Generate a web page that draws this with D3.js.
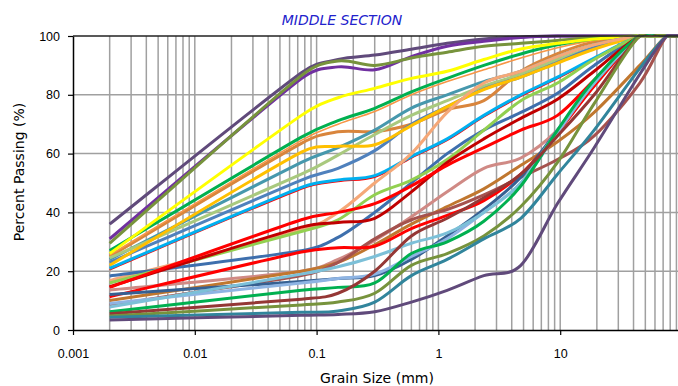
<!DOCTYPE html>
<meta charset="utf-8">
<script src="https://d3js.org/d3.v7.min.js"></script>
<title>Middle Section</title>
<style>
body { margin: 0; background: #fff; }
svg { display: block; }
.tick text { font-family: "Liberation Sans", Arial, sans-serif; font-size: 12.5px; fill: #000; }
.axis-title { font-family: "DejaVu Sans", Verdana, sans-serif; font-size: 14px; fill: #000; }
.title { font-family: "DejaVu Sans", Verdana, sans-serif; font-size: 14px; font-style: italic; fill: #2222cc; }
</style>
<body>
<div id="vis"></div>
<script>

// sieve sizes (mm) at which each sample was measured
var sieveSizes = [0.002, 0.075, 0.15, 0.3, 0.6, 1.18, 2.36, 4.75, 9.5, 19, 45, 75, 100];

var yTicks = [0, 20, 40, 60, 80, 100];
var xTicks = [0.001, 0.01, 0.1, 1, 10];
var xTickLabels = ["0.001", "0.01", "0.1", "1", "10"];

// percent passing, one row per sample
var passing = [
  [36, 87.5, 92, 93.5, 95.5, 97.5, 99, 99.7, 100, 100, 100, 100, 100],
  [31, 85.5, 89.5, 88.5, 93, 96.5, 98.2, 99.5, 100, 100, 100, 100, 100],
  [29.5, 86.5, 91.5, 90, 92.5, 94.5, 96.5, 97.5, 98.5, 99.5, 100, 100, 100],
  [25, 63.5, 67.4, 67.5, 70, 75, 78, 88, 94, 98, 100, 100, 100],
  [25.5, 64.5, 70, 74.3, 80, 84.5, 88.5, 92.5, 96, 98.5, 100, 100, 100],
  [27, 65.6, 71.2, 75.4, 81, 85.6, 90, 93.9, 97, 99, 100, 100, 100],
  [26, 73, 79, 82.2, 85.6, 88, 92, 95.6, 97.5, 99, 100, 100, 100],
  [24, 57, 62, 68, 75.5, 80, 84.5, 88, 93, 97, 100, 100, 100],
  [24.5, 53, 59.5, 66.5, 73, 78, 83, 87, 92, 96, 100, 100, 100],
  [23, 51, 55, 61, 70, 76, 82, 86, 91, 96, 100, 100, 100],
  [22, 60.5, 62.5, 63, 69.5, 76, 81.8, 86, 90.8, 95.5, 100, 100, 100],
  [20.5, 48, 50.5, 52, 58.5, 64.5, 72.5, 79.5, 85.5, 92, 100, 100, 100],
  [21, 48.5, 51, 52.5, 59, 65, 73, 80, 86, 92.5, 100, 100, 100],
  [16.8, 34, 40, 50, 60, 74, 84, 88, 93, 97, 100, 100, 100],
  [18.4, 27, 31.5, 40, 50, 60, 68, 74, 80.5, 90, 100, 100, 100],
  [16, 33.5, 37.5, 46, 51, 58, 68, 78, 84, 92, 100, 100, 100],
  [14.7, 35, 36.6, 38, 47, 57, 65, 72, 78.5, 88, 100, 100, 100],
  [14.5, 37.5, 40, 43, 49, 56, 62, 68, 73, 85, 100, 100, 100],
  [13.6, 20, 24, 30.5, 38.5, 47, 55, 58.5, 68, 83, 100, 100, 100],
  [10, 20, 23, 29, 36, 42, 48, 56, 64, 74, 90, 100, 100],
  [8.5, 18.5, 23, 31, 37.5, 41, 46, 52, 58, 66, 84, 100, 100],
  [11.3, 26.5, 28, 28.5, 34.5, 39, 44, 53, 67, 83, 100, 100, 100],
  [12.1, 16.5, 17.5, 18.5, 24, 32, 41, 52, 68, 84, 100, 100, 100],
  [9, 16, 17.5, 19, 25, 31, 40, 50, 67, 84, 100, 100, 100],
  [7.8, 19, 21.5, 25, 29.5, 33, 40, 50, 68, 84, 100, 100, 100],
  [6.2, 13.5, 14.5, 16, 26, 30, 37, 49, 68, 85, 100, 100, 100],
  [5.5, 10.5, 12.5, 20, 32, 38, 45, 53, 66, 80, 100, 100, 100],
  [4.8, 8.5, 9.5, 12.5, 22, 26, 32, 42, 57, 77, 100, 100, 100],
  [4.3, 6, 6.5, 9.5, 18.5, 24, 31, 38, 53, 68, 89, 100, 100],
  [3.4, 5, 5.3, 6.2, 9.5, 13.5, 18.5, 22, 43, 62, 87, 100, 100]
];

var lineColors = [
  "#604a7b", "#7030a0", "#77933c", "#d9853c", "#f79646", "#00b050", "#ffff00",
  "#4698ad", "#a9c97e", "#4f81bd", "#ffc000", "#ff0000", "#00b0f0", "#f5a878",
  "#3e6fad", "#92d050", "#c00000", "#ff0000", "#d08a85", "#c0772f", "#a5524e",
  "#ff0000", "#366092", "#8eb4e3", "#7cc0d8", "#00b050", "#953735", "#77933c",
  "#31859c", "#604a7b"
];
var thinLines = [4, 11];

var width = 678, height = 386;
var plotLeft = 73, plotRight = 682, plotTop = 36, plotBottom = 330;

var x = d3.scaleLog().domain([0.001, 100]).range([plotLeft, plotRight]);
var y = d3.scaleLinear().domain([0, 100]).range([plotBottom, plotTop]);

var svg = d3.select("#vis").append("svg")
  .attr("width", width)
  .attr("height", height);

svg.append("clipPath").attr("id", "plot-clip")
  .append("rect")
  .attr("x", plotLeft).attr("y", plotTop - 2)
  .attr("width", plotRight - plotLeft).attr("height", plotBottom - plotTop + 2);

// grid
var gridX = [];
for (var p = -3; p <= 1; p++) {
  for (var k = 1; k <= 9; k++) gridX.push(k * Math.pow(10, p));
}
gridX.push(100);

var grid = svg.append("g").attr("stroke", "#a0a0a0").attr("stroke-width", 1.5);
grid.selectAll(".vx")
  .data(gridX.filter(function(d) { return d > 0.001; }))
  .enter().append("line")
  .attr("x1", function(d) { return x(d); })
  .attr("x2", function(d) { return x(d); })
  .attr("y1", plotTop).attr("y2", plotBottom);
grid.selectAll(".hy")
  .data(yTicks.filter(function(d) { return d > 0 && d < 100; }))
  .enter().append("line")
  .attr("x1", plotLeft).attr("x2", plotRight)
  .attr("y1", function(d) { return y(d); })
  .attr("y2", function(d) { return y(d); });

// spreadsheet-style smoothing: Catmull-Rom handles, capped on short segments
function smoothPath(pts) {
  var n = pts.length, path = d3.path();
  var tang = pts.map(function(p, i) {
    var a = pts[Math.max(0, i - 1)], b = pts[Math.min(n - 1, i + 1)];
    return [(b[0] - a[0]) / 6, (b[1] - a[1]) / 6];
  });
  function handle(t, seg) {
    var len = Math.hypot(t[0], t[1]) || 1, s = Math.min(1, 0.5 * seg / len);
    return [t[0] * s, t[1] * s];
  }
  path.moveTo(pts[0][0], pts[0][1]);
  for (var i = 0; i < n - 1; i++) {
    var p0 = pts[i], p1 = pts[i + 1];
    var seg = Math.hypot(p1[0] - p0[0], p1[1] - p0[1]);
    var h0 = handle(tang[i], seg), h1 = handle(tang[i + 1], seg);
    path.bezierCurveTo(p0[0] + h0[0], p0[1] + h0[1], p1[0] - h1[0], p1[1] - h1[1], p1[0], p1[1]);
  }
  return path.toString();
}

svg.append("g").attr("clip-path", "url(#plot-clip)")
  .selectAll("path")
  .data(passing)
  .enter().append("path")
  .attr("fill", "none")
  .attr("stroke", function(d, i) { return lineColors[i]; })
  .attr("stroke-width", function(d, i) { return thinLines.indexOf(i) >= 0 ? 1.6 : 3; })
  .attr("stroke-linejoin", "round")
  .attr("d", function(d) {
    return smoothPath(d.map(function(v, i) { return [x(sieveSizes[i]), y(v)]; }));
  });

// frame
svg.append("line")
  .attr("x1", plotLeft).attr("x2", plotRight)
  .attr("y1", plotTop).attr("y2", plotTop)
  .attr("stroke", "#222").attr("stroke-width", 1.5);

svg.append("g")
  .attr("transform", "translate(0," + plotBottom + ")")
  .call(d3.axisBottom(x)
    .tickValues(xTicks)
    .tickFormat(function(d, i) { return xTickLabels[i]; })
    .tickSize(5)
    .tickSizeOuter(0)
    .tickPadding(14.5));

svg.append("g")
  .attr("transform", "translate(" + plotLeft + ",0)")
  .call(d3.axisLeft(y)
    .tickValues(yTicks)
    .tickSize(5)
    .tickSizeOuter(0)
    .tickPadding(8));

svg.selectAll(".domain").attr("stroke", "#000").attr("stroke-width", 1.5);
svg.selectAll(".tick line").attr("stroke", "#000").attr("stroke-width", 1.2);

svg.append("text")
  .attr("class", "title")
  .attr("x", 342).attr("y", 25)
  .attr("text-anchor", "middle")
  .text("MIDDLE SECTION");

svg.append("text")
  .attr("class", "axis-title")
  .attr("x", 377).attr("y", 383)
  .attr("text-anchor", "middle")
  .text("Grain Size (mm)");

svg.append("text")
  .attr("class", "axis-title")
  .attr("transform", "translate(24,172) rotate(-90)")
  .attr("text-anchor", "middle")
  .text("Percent Passing (%)");

</script>
</body>
